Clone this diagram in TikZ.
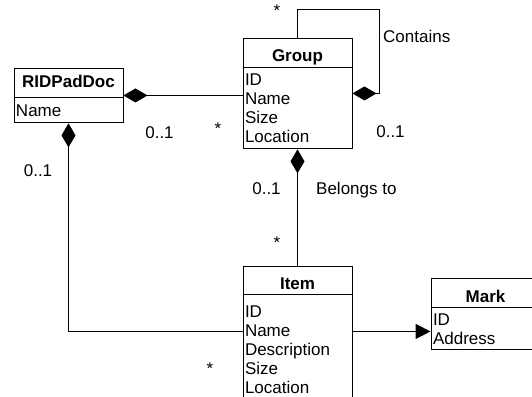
\documentclass[tikz,border=0pt]{standalone}
\usepackage{fontspec}
\setmainfont{Liberation Sans}
\usetikzlibrary{positioning,arrows.meta,calc}
\begin{document}
\begin{tikzpicture}[
    x=1pt, y=-1pt,
    font=\fontsize{17pt}{19pt}\selectfont,
    classname/.style={rectangle, draw, line width=0.9pt, minimum width=109pt,
        minimum height=29pt, inner sep=0pt, text height=19pt, text depth=0pt,
        font=\fontsize{17pt}{19pt}\selectfont\bfseries},
    attributes/.style={rectangle, draw, line width=0.9pt, text width=105pt,
        inner xsep=2pt, inner ysep=0pt, align=left},
    mult/.style={anchor=base, inner sep=0pt},
    composition/.style={draw, line width=0.9pt, {Diamond[length=24pt, width=14pt]}-},
    association/.style={draw, line width=0.9pt, -{Triangle[length=15pt, width=15pt]}}
]
\useasboundingbox (0,0) rectangle (532,396);
\clip (0,0) rectangle (532,396);

\node (RIDPadDoc) [classname, text height=9pt] at (68.5,82.5) {RIDPadDoc};
\node (RIDPadDocAttr) [attributes, below=0pt of RIDPadDoc, minimum height=25pt] {Name};
\node (Group) [classname] at (297.5,52.5) {Group};
\node (GroupAttr) [attributes, below=0pt of Group, minimum height=81pt] {ID\\Name\\Size\\Location};
\node (Item) [classname, minimum height=28pt] at (297.5,280) {Item};
\node (ItemAttr) [attributes, below=0pt of Item, minimum height=110pt] {ID\\Name\\Description\\Size\\Location};
\node (Mark) [classname] at (485.5,292.5) {Mark};
\node (MarkAttr) [attributes, below=0pt of Mark, minimum height=42pt] {ID\\Address};

\draw [composition] ($(RIDPadDoc.south east)+(0,-2)$) coordinate (DocRow)
  -- (DocRow -| GroupAttr.west);
\draw [composition] ($(GroupAttr.north east)+(0,26)$) coordinate (LoopEnd)
  -- ++(27,0) |- ($(Group.north)+(0,-28)$) -- (Group.north);
\draw [composition] (GroupAttr.south) -- (Item.north);
\coordinate (ItemRow) at ($(ItemAttr.north)+(0,37)$);
\draw [composition] (RIDPadDocAttr.south) |- (ItemRow -| ItemAttr.west);
\draw [association] (ItemRow -| ItemAttr.east) -- (ItemRow -| MarkAttr.west);

\node (DocMult) [mult] at (159.5,138) {0..1};
\node (GroupMult) [mult] at (218,134) {*};
\node (LoopStar) [mult] at (277,17) {*};
\node (LoopName) [mult, anchor=base west] at (383,42) {Contains};
\node (LoopMult) [mult] at (390.5,137) {0..1};
\node (OwnerMult) [mult] at (266.5,194) {0..1};
\node (BelongsName) [mult, anchor=base west] at (316,194) {Belongs to};
\node (ItemMult) [mult] at (277,248) {*};
\node (DocItemMult) [mult] at (38,176) {0..1};
\node (ItemDocMult) [mult] at (210,374) {*};
\end{tikzpicture}
\end{document}
